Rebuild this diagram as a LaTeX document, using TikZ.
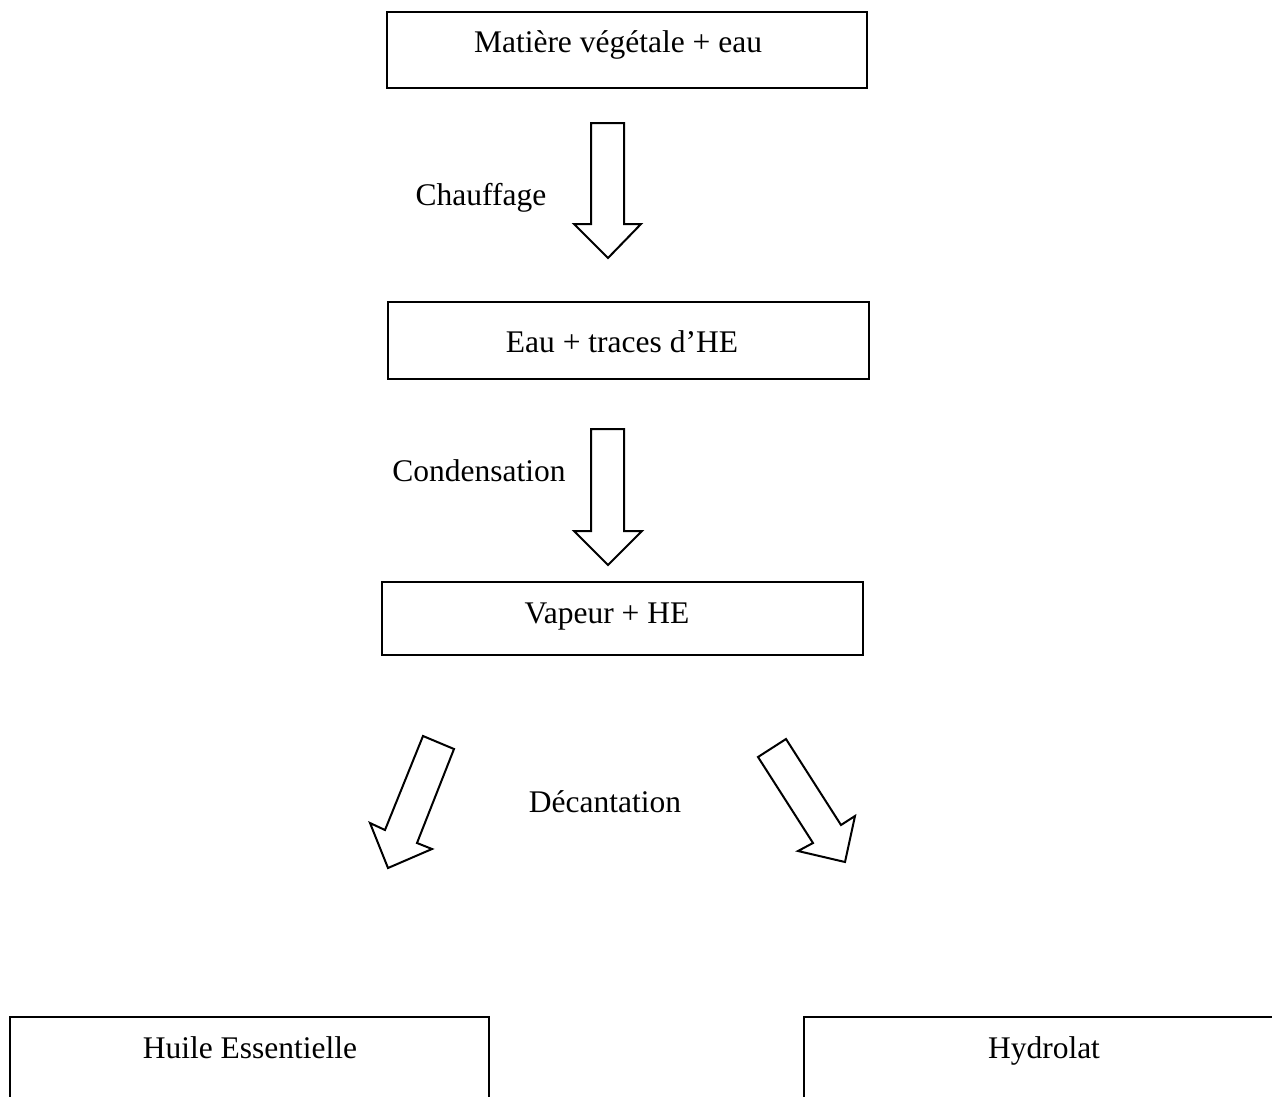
\documentclass[tikz,border=0pt]{standalone}
\usepackage{fontspec}
\setmainfont{Liberation Serif}
\tikzset{
  box/.style={draw, line width=2pt, inner sep=0pt},
  lbl/.style={anchor=base, inner sep=0pt, font=\fontsize{31.5}{38}\selectfont},
  blockarrow/.style={draw, line width=2pt, line join=miter, fill=white},
}
\begin{document}
\begin{tikzpicture}[x=1pt,y=-1pt]
\useasboundingbox (0,0) rectangle (1272,1096);
\clip (0,0) rectangle (1272,1096);
% boxes
\draw[box] (387,12) rectangle (867,88);
\node[lbl] (t1) at (618,52) {Matière végétale + eau};
\draw[box] (388,302) rectangle (869,379);
\node[lbl] (t2) at (622,352) {Eau + traces d’HE};
\draw[box] (382,582) rectangle (863,655);
\node[lbl] (t3) at (607,623) {Vapeur + HE};
\draw[box] (10,1017) rectangle (489,1120);
\node[lbl] (t4) at (250,1058) {Huile Essentielle};
\draw[box] (804,1017) rectangle (1300,1120);
\node[lbl] (t5) at (1044,1058) {Hydrolat};
% labels
\node[lbl] (l1) at (481,205) {Chauffage};
\node[lbl] (l2) at (479,481) {Condensation};
\node[lbl] (l3) at (605,812) {Décantation};
% vertical block arrows
\draw[blockarrow] (591,123) -- (624,123) -- (624,224) -- (641,224) -- (608,258) -- (574,224) -- (591,224) -- cycle;
\draw[blockarrow] (591,429) -- (624,429) -- (624,531) -- (642,531) -- (608,565) -- (574,531) -- (591,531) -- cycle;
% diagonal block arrows
\draw[blockarrow] (423,736) -- (454,749) -- (417,843) -- (432,849) -- (388,868) -- (370,823) -- (385,830) -- cycle;
\draw[blockarrow] (758,757) -- (786,739) -- (841,825) -- (855,816) -- (845,862) -- (798,851) -- (813,843) -- cycle;
\end{tikzpicture}
\end{document}
